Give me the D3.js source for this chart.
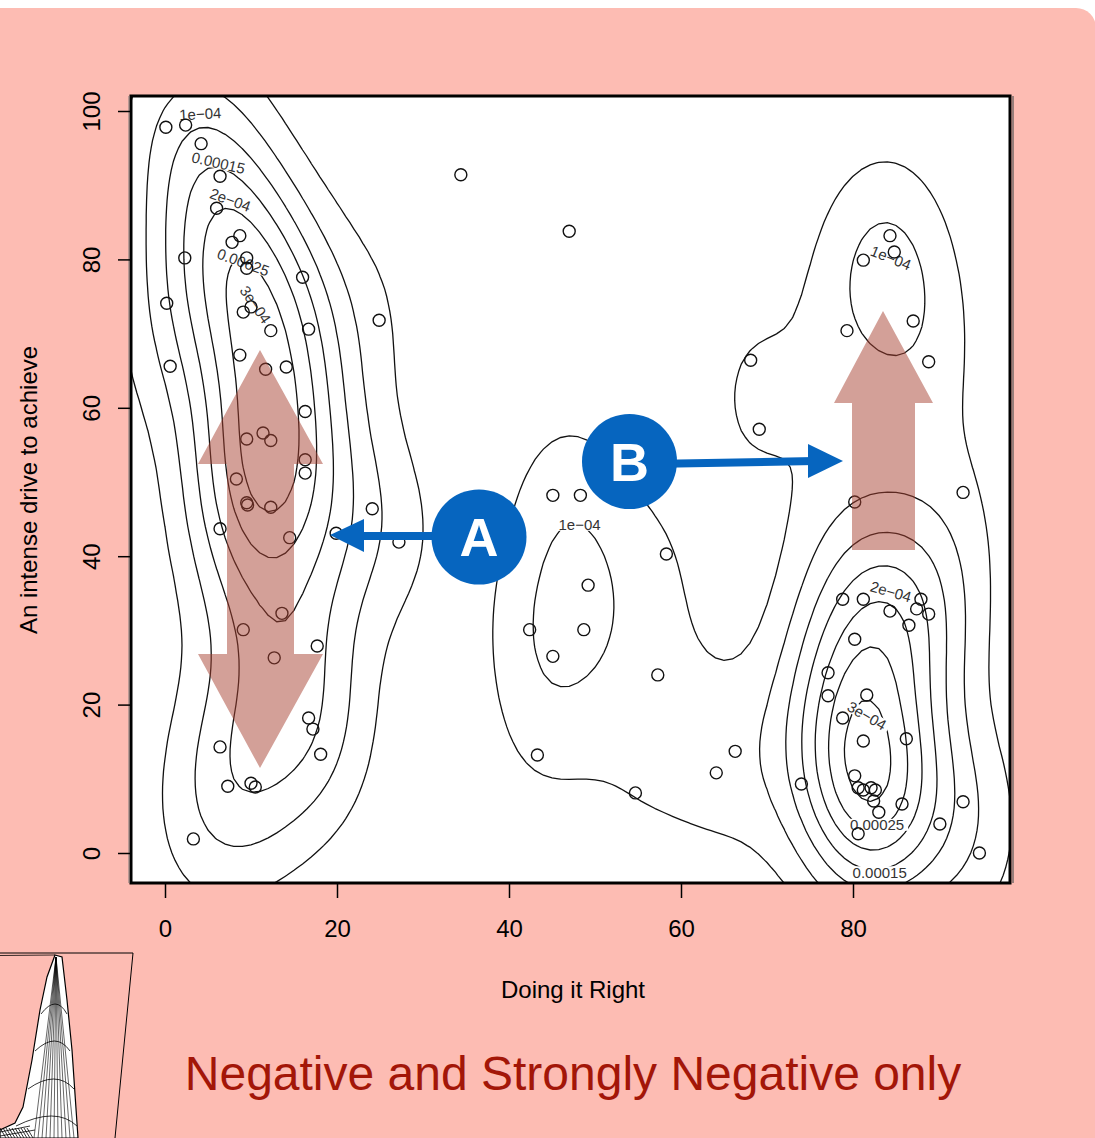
<!DOCTYPE html>
<html><head><meta charset="utf-8">
<script src="https://cdn.jsdelivr.net/npm/d3@7"></script>
<style>body{margin:0;background:#fff;} svg{display:block;}</style>
</head><body>
<script>
// ---------------- data ----------------
const pointX = [
  0.1,2.4,4.2,6.4,6.0,8.7,7.8,2.3,9.5,9.5,16.0,0.2,10.0,9.1,12.3,16.7,24.9,0.6,8.7,11.7,14.1,16.3,9.5,11.4,12.3,8.3,16.3,16.3,9.5,9.6,12.3,6.4,14.5,24.1,19.9,27.2,
  13.6,9.1,12.7,17.7,16.7,17.2,18.1,6.4,7.3,10.0,10.5,3.3,
  34.4,47.0,45.1,48.3,58.3,49.2,42.4,48.7,45.1,57.3,43.3,54.7,66.3,64.1,
  84.3,84.8,81.2,79.3,87.0,88.8,68.1,69.1,92.8,80.2,
  78.8,81.2,87.9,84.3,87.4,88.8,86.5,80.2,77.1,77.1,81.6,78.8,81.2,86.2,74.0,80.2,80.6,81.2,82.1,82.6,82.4,83.0,85.7,80.6,90.1,92.8,94.7
];
const pointY = [
  97.8,98.1,95.6,91.2,86.9,83.2,82.3,80.2,80.2,78.8,77.6,74.1,73.6,72.9,70.4,70.6,71.8,65.6,67.1,65.2,65.5,59.5,55.8,56.6,55.6,50.4,53.0,51.2,47.2,46.9,46.6,43.7,42.5,46.4,43.1,41.9,
  32.3,30.1,26.3,27.9,18.2,16.7,13.3,14.3,9.0,9.4,8.9,1.9,
  91.4,83.8,48.2,48.2,40.3,36.1,30.1,30.1,26.5,24.0,13.2,8.1,13.7,10.8,
  83.2,81.0,79.9,70.4,71.7,66.2,66.4,57.1,48.6,47.3,
  34.2,34.2,34.2,32.6,32.9,32.2,30.7,28.8,24.3,21.2,21.3,18.2,15.1,15.4,9.3,10.4,8.8,8.5,8.8,8.5,7.0,5.5,6.6,2.6,3.9,6.9,0.0
];
const xTicks = [0, 20, 40, 60, 80];
const yTicks = [0, 20, 40, 60, 80, 100];
const contourLevels = [5e-5, 1e-4, 1.5e-4, 2e-4, 2.5e-4, 3e-4, 3.5e-4, 4e-4, 4.5e-4, 5e-4];
const labelLevels = [1e-4, 1.5e-4, 2e-4, 2.5e-4, 3e-4, 1e-4, 1e-4, 2e-4, 3e-4, 2.5e-4, 1.5e-4];
const labelTexts = ["1e\u221204","0.00015","2e\u221204","0.00025","3e\u221204","1e\u221204","1e\u221204","2e\u221204","3e\u221204","0.00025","0.00015"];
const xTitle = "Doing it Right";
const yTitle = "An intense drive to achieve";
const mainTitle = "Negative and Strongly Negative only";
const markerLetters = ["A", "B"];

// ---------------- layout ----------------
const W = 1095, H = 1138;
const plot = {left: 131, right: 1010, top: 96, bottom: 883};
const x = d3.scaleLinear().domain([0, 80]).range([165, 853]);
const y = d3.scaleLinear().domain([0, 100]).range([853, 111]);
const FONT = "'Liberation Sans', Arial, Helvetica, sans-serif";

const svg = d3.select("body").append("svg").attr("width", W).attr("height", H);
svg.append("rect").attr("width", W).attr("height", H).attr("fill", "#fff");
svg.append("rect").attr("x", -30).attr("y", 8).attr("width", 1126).attr("height", 1200)
  .attr("rx", 20).attr("fill", "#FDBCB3");

svg.append("rect").attr("x", plot.left).attr("y", plot.top)
  .attr("width", plot.right - plot.left).attr("height", plot.bottom - plot.top).attr("fill", "#fff");

svg.append("defs").append("clipPath").attr("id", "clip").append("rect")
  .attr("x", plot.left).attr("y", plot.top)
  .attr("width", plot.right - plot.left).attr("height", plot.bottom - plot.top);

// ---------------- kernel density ----------------
const sx = 5.3, sy = 10.5;
const gx0 = -30, gy0 = -30, step = 1;
const nx = 160, ny = 165;
const n = pointX.length;
const ex = [], ey = [];
for (let k = 0; k < n; k++) {
  const a = new Float64Array(nx), b = new Float64Array(ny);
  for (let i = 0; i < nx; i++) { const d = (gx0 + i * step - pointX[k]) / sx; a[i] = Math.exp(-0.5 * d * d); }
  for (let j = 0; j < ny; j++) { const d = (gy0 + j * step - pointY[k]) / sy; b[j] = Math.exp(-0.5 * d * d); }
  ex.push(a); ey.push(b);
}
const norm = 1 / (n * 2 * Math.PI * sx * sy);
const grid = new Float64Array(nx * ny);
for (let j = 0; j < ny; j++) for (let i = 0; i < nx; i++) {
  let s = 0;
  for (let k = 0; k < n; k++) s += ex[k][i] * ey[k][j];
  grid[j * nx + i] = s * norm;
}
const contours = d3.contours().size([nx, ny]).thresholds(contourLevels)(Array.from(grid));
const toPx = c => [x(gx0 + (c[0] - 0.5) * step), y(gy0 + (c[1] - 0.5) * step)];

const cg = svg.append("g").attr("clip-path", "url(#clip)");
const ringsByLevel = new Map();
contours.forEach(c => {
  const rings = [];
  c.coordinates.forEach(poly => poly.forEach(ring => rings.push(ring.map(toPx))));
  ringsByLevel.set(c.value, rings);
  const dstr = rings.map(r => "M" + r.map(p => p[0].toFixed(1) + "," + p[1].toFixed(1)).join("L") + "Z").join("");
  cg.append("path").attr("d", dstr).attr("fill", "none").attr("stroke", "#111").attr("stroke-width", 1.3);
});

// contour labels: snapped to the matching contour when it passes close to the spot seen in the original
const labelSpots = [[4.1,99.6,-3],[6.2,93,13],[7.6,88,20],[9.1,79.6,20],[10.5,73.9,55],[47.4,42.5,18],[84.4,80.2,22],[84.4,35.2,16],[81.6,18.5,30],[82.8,3.8,0],[83.1,-2.6,0]];
const lg = svg.append("g").attr("clip-path", "url(#clip)");
labelLevels.forEach((lv, idx) => {
  let key = null;
  ringsByLevel.forEach((v, k) => { if (Math.abs(k - lv) < 1e-10) key = k; });
  const rings = key === null ? [] : ringsByLevel.get(key);
  const tx = x(labelSpots[idx][0]), ty = y(labelSpots[idx][1]), tang = labelSpots[idx][2];
  let best = null;
  rings.forEach(r => {
    for (let i = 0; i < r.length - 1; i++) {
      const [ax, ay] = r[i], [bx, by] = r[i + 1];
      const dx = bx - ax, dy = by - ay, L = dx * dx + dy * dy || 1;
      let t = ((tx - ax) * dx + (ty - ay) * dy) / L; t = Math.max(0, Math.min(1, t));
      const px = ax + t * dx, py = ay + t * dy;
      if (px < plot.left + 20 || px > plot.right - 20 || py < plot.top + 8 || py > plot.bottom - 8) continue;
      const a0 = r[Math.max(0, i - 2)], a1 = r[Math.min(r.length - 1, i + 3)];
      let ang = Math.atan2(a1[1] - a0[1], a1[0] - a0[0]) * 180 / Math.PI;
      if (ang > 90) ang -= 180; if (ang < -90) ang += 180;
      const dist2 = (px - tx) ** 2 + (py - ty) ** 2;
      const cost = dist2 + (1.5 * (ang - tang)) ** 2;
      if (!best || cost < best.cost) best = {cost, dist2, px, py, ang};
    }
  });
  let px = tx, py = ty, ang = tang;
  if (best && best.dist2 < 15 * 15 && Math.abs(best.ang - tang) < 40) { px = best.px; py = best.py; ang = best.ang; }
  const g = lg.append("g").attr("transform", `translate(${px},${py}) rotate(${ang})`);
  const bg = g.append("rect").attr("fill", "#fff");
  const t = g.append("text").attr("text-anchor", "middle").attr("dy", "0.35em")
    .attr("font-family", FONT).attr("font-size", 15).attr("fill", "#333").text(labelTexts[idx]);
  const wlen = t.node().getComputedTextLength();
  bg.attr("x", -wlen / 2 - 4).attr("y", -6).attr("width", wlen + 8).attr("height", 12);
});

// points
svg.append("g").selectAll("circle").data(pointX.map((v, i) => [v, pointY[i]])).join("circle")
  .attr("cx", d => x(d[0])).attr("cy", d => y(d[1])).attr("r", 6)
  .attr("fill", "none").attr("stroke", "#111").attr("stroke-width", 1.4);

// plot frame
svg.append("rect").attr("x", plot.left).attr("y", plot.top)
  .attr("width", plot.right - plot.left).attr("height", plot.bottom - plot.top)
  .attr("fill", "none").attr("stroke", "#000").attr("stroke-width", 3);
svg.append("line").attr("x1", plot.left - 2).attr("x2", plot.left - 2).attr("y1", plot.top).attr("y2", plot.bottom)
  .attr("stroke", "#777").attr("stroke-width", 1);
svg.append("line").attr("x1", plot.right + 3).attr("x2", plot.right + 3).attr("y1", plot.top).attr("y2", plot.bottom)
  .attr("stroke", "#555").attr("stroke-width", 1.2);

// axes
const ax = svg.append("g").attr("transform", `translate(0,${plot.bottom + 1})`)
  .call(d3.axisBottom(x).tickValues(xTicks).tickSize(14).tickPadding(22));
ax.select(".domain").remove();
ax.selectAll("line").attr("stroke", "#000").attr("stroke-width", 1.5);
ax.selectAll("text").attr("font-size", 24).attr("font-family", FONT).attr("fill", "#000");

const ay = svg.append("g").attr("transform", `translate(${plot.left - 1},0)`)
  .call(d3.axisLeft(y).tickValues(yTicks).tickSize(12));
ay.select(".domain").remove();
ay.selectAll("line").attr("stroke", "#000").attr("stroke-width", 1.5);
ay.selectAll("text").attr("x", 0).attr("dy", 0).attr("text-anchor", "middle")
  .attr("transform", "translate(-30,0) rotate(-90)")
  .attr("font-size", 24).attr("font-family", FONT).attr("fill", "#000");

svg.append("text").attr("x", 573).attr("y", 998).attr("text-anchor", "middle")
  .attr("font-family", FONT).attr("font-size", 24).attr("fill", "#000").text(xTitle);
svg.append("text").attr("transform", "translate(37,490) rotate(-90)").attr("text-anchor", "middle")
  .attr("font-family", FONT).attr("font-size", 24).attr("fill", "#000").text(yTitle);

// ---------------- annotations ----------------
const arrowFill = "rgb(168,66,50)";
const lcx = x.invert(260);
const dbl = [[lcx, y.invert(350)], [x.invert(323), y.invert(464)], [x.invert(294), y.invert(464)], [x.invert(294), y.invert(654)],
  [x.invert(323), y.invert(654)], [lcx, y.invert(768)], [x.invert(198), y.invert(654)], [x.invert(227), y.invert(654)],
  [x.invert(227), y.invert(464)], [x.invert(198), y.invert(464)]];
svg.append("path").attr("d", d3.line().x(d => x(d[0])).y(d => y(d[1]))(dbl) + "Z")
  .attr("fill", arrowFill).attr("opacity", 0.5);
const up = [[x.invert(883), y.invert(311)], [x.invert(933), y.invert(403)], [x.invert(915), y.invert(403)], [x.invert(915), y.invert(550)],
  [x.invert(852), y.invert(550)], [x.invert(852), y.invert(403)], [x.invert(834), y.invert(403)]];
svg.append("path").attr("d", d3.line().x(d => x(d[0])).y(d => y(d[1]))(up) + "Z")
  .attr("fill", arrowFill).attr("opacity", 0.5);

const blue = "#0665BF";
svg.append("line").attr("x1", 450).attr("y1", 536).attr("x2", 355).attr("y2", 536)
  .attr("stroke", blue).attr("stroke-width", 8);
svg.append("path").attr("d", "M330,535 L364,519 L364,552 Z").attr("fill", blue);
svg.append("line").attr("x1", 650).attr("y1", 464).attr("x2", 815).attr("y2", 461)
  .attr("stroke", blue).attr("stroke-width", 8);
svg.append("path").attr("d", "M843,461 L808,444 L808,478 Z").attr("fill", blue);
[[479, 537], [629.5, 461.5]].forEach((c, i) => {
  svg.append("circle").attr("cx", c[0]).attr("cy", c[1]).attr("r", 47.5).attr("fill", blue);
  svg.append("text").attr("x", c[0]).attr("y", c[1] + 19).attr("text-anchor", "middle")
    .attr("font-family", FONT).attr("font-weight", "bold").attr("font-size", 54).attr("fill", "#fff")
    .text(markerLetters[i]);
});

// title
svg.append("text").attr("x", 573).attr("y", 1090).attr("text-anchor", "middle")
  .attr("font-family", FONT).attr("font-size", 48).attr("fill", "rgb(163,22,8)").text(mainTitle);

// ---------------- partial perspective plot (bottom-left) ----------------
const p3 = svg.append("g");
p3.append("path").attr("d", "M0,953 L133,953 L115,1138").attr("fill", "none").attr("stroke", "#000").attr("stroke-width", 1);
p3.append("path").attr("d", "M0,955.5 L55,955").attr("fill", "none").attr("stroke", "#000").attr("stroke-width", 0.8);
p3.append("path").attr("d", "M55,955 L62,957 L67,1000 L72,1050 L78,1138 L0,1138 L0,1130 L15,1123 L23,1107 L32,1060 L40,1010 L47,977 Z")
  .attr("fill", "#fff").attr("stroke", "#000").attr("stroke-width", 1.2);
d3.range(34, 78, 4).forEach(bx => p3.append("line").attr("x1", 56).attr("y1", 957).attr("x2", bx).attr("y2", 1138)
  .attr("stroke", "#000").attr("stroke-width", 0.6));
[[1008, 41, 67], [1045, 35, 70], [1083, 28, 74], [1120, 16, 77]].forEach(a => {
  p3.append("path").attr("d", `M${a[1]},${a[0] + 6} Q56,${a[0] - 14} ${a[2]},${a[0] + 6}`)
    .attr("fill", "none").attr("stroke", "#000").attr("stroke-width", 0.8);
});
d3.range(0, 30, 3).forEach(bx => p3.append("line").attr("x1", bx).attr("y1", 1128).attr("x2", bx + 6).attr("y2", 1138)
  .attr("stroke", "#000").attr("stroke-width", 0.8));
p3.append("path").attr("d", "M0,1132 L30,1126 M0,1136 L35,1130").attr("stroke", "#000").attr("stroke-width", 0.8).attr("fill", "none");
</script>
</body></html>
